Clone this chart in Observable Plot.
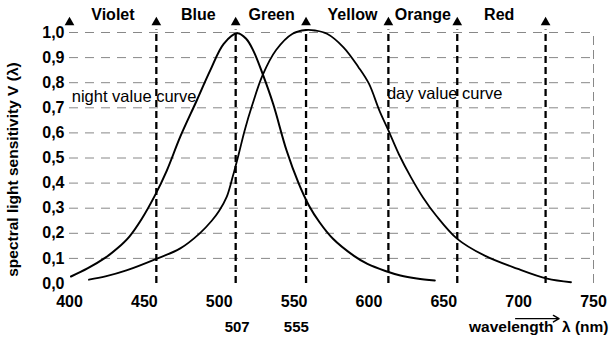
<!DOCTYPE html>
<html>
<head>
<meta charset="utf-8">
<script src="https://cdn.jsdelivr.net/npm/d3@7"></script>
<script src="https://cdn.jsdelivr.net/npm/@observablehq/plot@0.6"></script>
<style>
  html, body { margin: 0; padding: 0; background: #fff; }
  #chart { width: 611px; height: 339px; }
</style>
</head>
<body>
<div id="chart"></div>
<script>
// Night (scotopic) value curve
const nightNm = [401, 412, 424, 432, 440, 448, 457, 465, 474, 485, 494, 503, 512, 518, 523, 529, 536, 545, 553, 560, 567, 576, 590, 599, 611, 621, 632, 644];
const nightV  = [0.028, 0.06, 0.103, 0.14, 0.187, 0.255, 0.35, 0.45, 0.585, 0.729, 0.849, 0.955, 0.997, 0.975, 0.925, 0.835, 0.716, 0.53, 0.40, 0.31, 0.244, 0.178, 0.11, 0.078, 0.05, 0.032, 0.02, 0.012];
// Day (photopic) value curve
const dayNm = [413, 424, 438, 458, 474, 487, 495, 500, 505, 509, 513, 517, 522, 529, 538, 549, 558, 564, 572, 583, 593, 600, 607, 613, 620, 628, 636, 645, 659, 677, 699, 719, 735];
const dayV  = [0.015, 0.028, 0.052, 0.098, 0.14, 0.2, 0.25, 0.29, 0.345, 0.425, 0.515, 0.61, 0.71, 0.83, 0.93, 0.995, 1.01, 1.008, 0.995, 0.941, 0.862, 0.796, 0.689, 0.61, 0.515, 0.424, 0.344, 0.27, 0.178, 0.112, 0.059, 0.019, 0.005];
// Colour band boundaries (as drawn) and names
const boundaries = [400, 458, 511, 558, 613, 659, 718];
const bandNames = ["Violet", "Blue", "Green", "Yellow", "Orange", "Red"];
const bandLabelX = [429, 486, 535, 589, 636, 687];
// Peak labels
const peakLabels = ["507", "555"];
const peakLabelX = [512, 551.5];
// Axis ticks
const xTicks = [400, 450, 500, 550, 600, 650, 700, 750];
const yTicks = [0, 0.1, 0.2, 0.3, 0.4, 0.5, 0.6, 0.7, 0.8, 0.9, 1.0];

const night = nightNm.map((x, i) => ({x, v: nightV[i]}));
const day = dayNm.map((x, i) => ({x, v: dayV[i]}));
const bands = bandNames.map((name, i) => ({name, x: bandLabelX[i]}));
const peaks = peakLabels.map((t, i) => ({t, x: peakLabelX[i]}));

const font = "'Liberation Sans', Arial, sans-serif";

const chart = Plot.plot({
  width: 611,
  height: 339,
  marginLeft: 69,
  marginRight: 18,
  marginTop: 32,
  marginBottom: 56,
  style: {fontFamily: font, background: "#fff", overflow: "visible"},
  x: {domain: [400, 750]},
  y: {domain: [0, 1]},
  marks: [
    // horizontal grid
    Plot.ruleY(yTicks.slice(1), {stroke: "#888", strokeWidth: 1, strokeDasharray: "9,7"}),
    Plot.ruleX([750], {y1: 0, y2: 1, stroke: "#888", strokeWidth: 1, strokeDasharray: "9,5"}),
    // dashed band boundaries
    Plot.ruleX(boundaries.slice(1), {y1: 0, y2: 1.01, stroke: "#000", strokeWidth: 2.3, strokeDasharray: "7,4"}),
    Plot.dot(boundaries, {x: d => d, y: 1.04, symbol: "triangle", fill: "#000", stroke: "none", r: 3.6}),
    // curves
    Plot.line(night, {x: "x", y: "v", curve: "catmull-rom", stroke: "#000", strokeWidth: 2}),
    Plot.line(day, {x: "x", y: "v", curve: "catmull-rom", stroke: "#000", strokeWidth: 1.8}),
    // band names
    Plot.text(bands, {x: "x", y: 1.07, text: "name", fontSize: 16, fontWeight: "bold", fill: "#000"}),
    // curve labels
    Plot.text(["night value curve"], {x: 401.5, y: 0.745, text: d => d, textAnchor: "start", fontSize: 16.5, fill: "#000"}),
    Plot.text(["day value curve"], {x: 612, y: 0.755, text: d => d, textAnchor: "start", fontSize: 16.5, fill: "#000"}),
    // axes
    Plot.axisX(xTicks, {tickSize: 0, tickPadding: 12, fontSize: 16, fontWeight: "bold", label: null}),
    Plot.axisY(yTicks, {tickSize: 0, tickPadding: 5, fontSize: 16, fontWeight: "bold", label: null,
      tickFormat: d => d.toFixed(1).replace(".", ",")}),
    // peak labels
    Plot.text(peaks, {x: "x", y: -0.175, text: "t", fontSize: 15, fontWeight: "bold", fill: "#000"}),
    // axis titles
    Plot.text(["wavelength  λ (nm)"], {x: 750, y: -0.175, text: d => d, textAnchor: "end", dx: 15, fontSize: 15.5, fontWeight: "bold", fill: "#000"}),
    Plot.arrow([{x1: 698, x2: 727}], {x1: "x1", x2: "x2", y1: -0.14, y2: -0.14, stroke: "#000", strokeWidth: 1.4, headLength: 7}),
    Plot.text(["spectral light sensitivity V (λ)"], {frameAnchor: "left", textAnchor: "middle", dx: -56, y: 0.454, text: d => d, rotate: -90, fontSize: 15.5, fontWeight: "bold", fill: "#000"})
  ]
});
document.getElementById("chart").appendChild(chart);
</script>
</body>
</html>
